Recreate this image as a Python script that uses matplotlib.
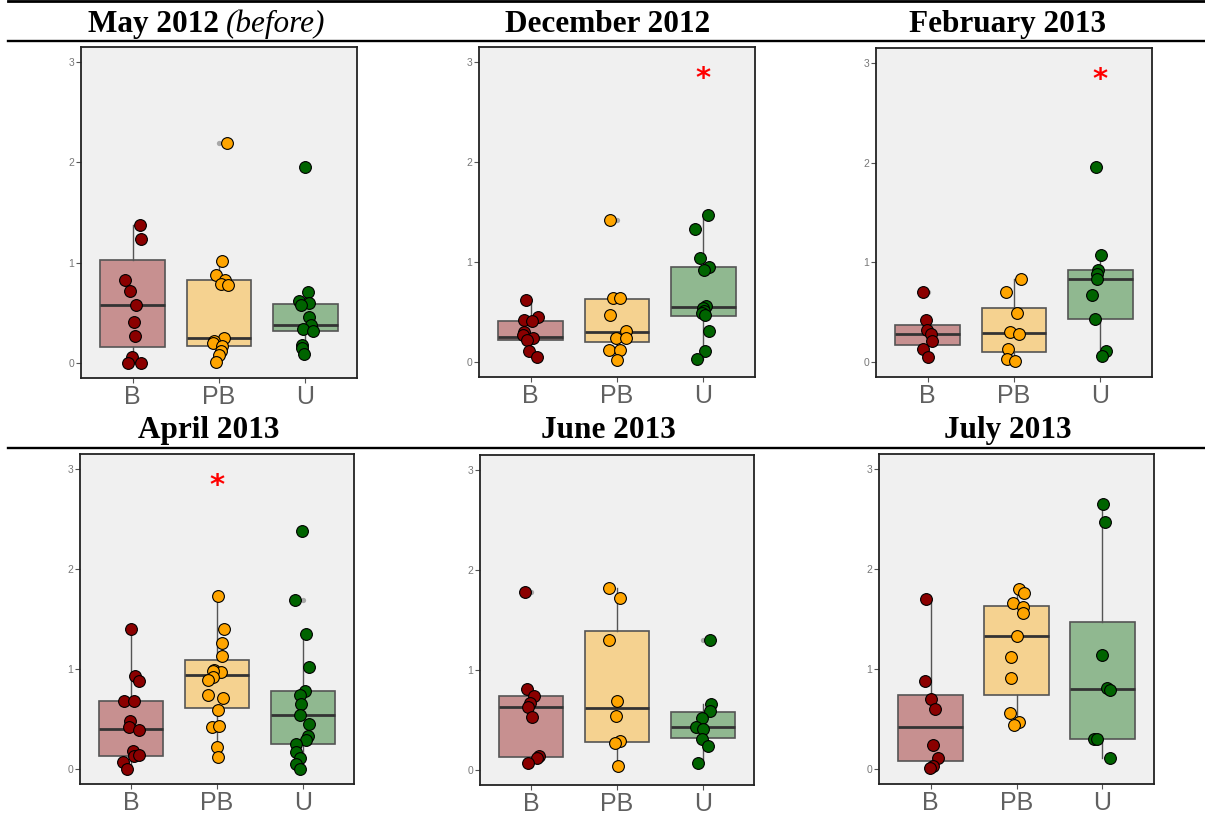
import matplotlib
matplotlib.use("Agg")
import matplotlib.pyplot as plt
from matplotlib.colors import to_rgba
from matplotlib.lines import Line2D

W, H = 1205, 817

groups = ["B", "PB", "U"]
colors = ["#8b0000", "#ffa500", "#006400"]
months = ["May 2012", "December 2012", "February 2013",
          "April 2013", "June 2013", "July 2013"]

# values per group (B, PB, U), jitter offsets, box stats (q1, median, q3, low, high)
may12_y = [[1.38, 1.24, 0.83, 0.72, 0.58, 0.41, 0.27, 0.06, 0.0, 0.0],
           [2.19, 1.02, 0.88, 0.83, 0.79, 0.78, 0.25, 0.22, 0.20, 0.17, 0.12, 0.08, 0.01],
           [1.95, 0.71, 0.62, 0.60, 0.58, 0.46, 0.38, 0.34, 0.32, 0.18, 0.15, 0.09]]
may12_dx = [[0.08, 0.09, -0.09, -0.03, 0.04, 0.02, 0.03, -0.01, -0.05, 0.09],
            [0.09, 0.04, -0.03, 0.07, 0.02, 0.11, 0.06, -0.06, -0.07, 0.035, 0.02, 0.0, -0.03],
            [0.0, 0.03, -0.07, 0.04, -0.05, 0.04, 0.065, -0.03, 0.09, -0.035, -0.04, -0.02]]
may12_box = [(0.16, 0.58, 1.03, 0.0, 1.38), (0.17, 0.25, 0.83, 0.01, 1.02),
             (0.32, 0.38, 0.59, 0.09, 0.71)]

dec12_y = [[0.62, 0.45, 0.42, 0.41, 0.30, 0.27, 0.24, 0.22, 0.11, 0.05],
           [1.42, 0.64, 0.64, 0.47, 0.31, 0.24, 0.24, 0.12, 0.12, 0.02],
           [1.47, 1.33, 1.04, 0.95, 0.92, 0.56, 0.54, 0.51, 0.49, 0.47, 0.31, 0.11, 0.03]]
dec12_dx = [[-0.06, 0.08, -0.08, 0.01, -0.08, -0.09, 0.03, -0.04, -0.015, 0.07],
            [-0.08, -0.05, 0.04, -0.085, 0.1, -0.015, 0.1, -0.09, 0.03, 0.0],
            [0.05, -0.09, -0.035, 0.065, 0.01, 0.03, 0.0, 0.01, -0.02, 0.02, 0.065, 0.02, -0.07]]
dec12_box = [(0.22, 0.25, 0.41, 0.05, 0.62), (0.20, 0.30, 0.63, 0.02, 0.64),
             (0.46, 0.55, 0.95, 0.03, 1.47)]

feb13_y = [[0.70, 0.42, 0.32, 0.28, 0.21, 0.13, 0.05],
           [0.83, 0.70, 0.49, 0.30, 0.28, 0.13, 0.03, 0.01],
           [1.96, 1.07, 0.92, 0.88, 0.83, 0.67, 0.43, 0.11, 0.06]]
feb13_dx = [[-0.05, -0.02, -0.01, 0.04, 0.05, -0.05, 0.0],
            [0.08, -0.09, 0.04, -0.045, 0.06, -0.065, -0.08, 0.01],
            [-0.045, 0.01, -0.025, -0.04, -0.04, -0.1, -0.065, 0.065, 0.025]]
feb13_box = [(0.17, 0.28, 0.37, 0.05, 0.42), (0.10, 0.29, 0.54, 0.01, 0.83),
             (0.43, 0.83, 0.92, 0.06, 1.07)]

apr13_y = [[1.40, 0.93, 0.88, 0.68, 0.68, 0.48, 0.42, 0.39, 0.18, 0.13, 0.14, 0.07, 0.0],
           [1.73, 1.40, 1.26, 1.13, 0.99, 0.97, 0.98, 0.92, 0.89, 0.74, 0.71, 0.59, 0.42,
            0.43, 0.22, 0.12],
           [2.38, 1.69, 1.35, 1.02, 0.78, 0.74, 0.65, 0.54, 0.45, 0.33, 0.29, 0.25, 0.17,
            0.11, 0.05, 0.0]]
apr13_dx = [[0.0, 0.04, 0.09, -0.09, 0.03, -0.02, -0.03, 0.085, 0.015, 0.035, 0.09, -0.1, -0.055],
            [0.01, 0.085, 0.06, 0.055, -0.04, 0.045, -0.05, -0.05, -0.1, -0.105, 0.065, 0.01,
             -0.06, 0.02, 0.0, 0.01],
            [-0.01, -0.09, 0.045, 0.07, 0.03, -0.03, -0.015, -0.03, 0.07, 0.06, 0.04, -0.075,
             -0.08, -0.03, -0.08, -0.03]]
apr13_box = [(0.13, 0.40, 0.68, 0.0, 1.40), (0.61, 0.94, 1.09, 0.12, 1.73),
             (0.25, 0.54, 0.78, 0.0, 1.35)]

jun13_y = [[1.78, 0.81, 0.74, 0.67, 0.63, 0.53, 0.14, 0.12, 0.07],
           [1.82, 1.72, 1.30, 0.69, 0.54, 0.29, 0.27, 0.04],
           [1.30, 0.66, 0.59, 0.52, 0.43, 0.41, 0.31, 0.24, 0.07]]
jun13_dx = [[-0.08, -0.05, 0.03, -0.02, -0.045, 0.01, 0.09, 0.06, -0.035],
            [-0.09, 0.04, -0.09, 0.0, -0.01, 0.04, -0.02, 0.015],
            [0.085, 0.1, 0.09, -0.01, -0.08, 0.01, -0.01, 0.06, -0.055]]
jun13_box = [(0.13, 0.63, 0.74, 0.07, 0.81), (0.28, 0.62, 1.39, 0.04, 1.82),
             (0.32, 0.43, 0.58, 0.07, 0.66)]

jul13_y = [[1.70, 0.88, 0.70, 0.60, 0.24, 0.11, 0.03, 0.01],
           [1.80, 1.76, 1.66, 1.62, 1.56, 1.33, 1.12, 0.91, 0.56, 0.47, 0.44],
           [2.65, 2.47, 1.14, 0.81, 0.79, 0.30, 0.30, 0.11]]
jul13_dx = [[-0.05, -0.07, 0.0, 0.05, 0.03, 0.085, 0.03, -0.01],
            [0.03, 0.09, -0.04, 0.08, 0.075, 0.0, -0.06, -0.065, -0.07, 0.03, -0.03],
            [0.01, 0.03, 0.0, 0.05, 0.085, -0.1, -0.06, 0.085]]
jul13_box = [(0.08, 0.42, 0.74, 0.01, 1.70), (0.74, 1.33, 1.63, 0.44, 1.80),
             (0.30, 0.80, 1.47, 0.11, 2.65)]

# significance asterisk: category index (1-based) or None
stars = [None, 3, 3, 2, None, None]
star_y = 2.83

panel_y = [may12_y, dec12_y, feb13_y, apr13_y, jun13_y, jul13_y]
panel_dx = [may12_dx, dec12_dx, feb13_dx, apr13_dx, jun13_dx, jul13_dx]
panel_box = [may12_box, dec12_box, feb13_box, apr13_box, jun13_box, jul13_box]

# axes rectangles in pixels: left, right, top, bottom
rects = [(81, 357, 47, 378), (479, 755, 47, 377), (876, 1152, 48, 377),
         (80, 354, 454, 784), (480, 754, 455, 785), (879, 1154, 454, 784)]


def draw_panel(ax, ys, dxs, boxes, star):
    ax.set_facecolor("#f0f0f0")
    stats = []
    for v, (q1, med, q3, lo, hi) in zip(ys, boxes):
        fl = [y for y in v if y < lo - 1e-6 or y > hi + 1e-6]
        stats.append(dict(q1=q1, med=med, q3=q3, whislo=lo, whishi=hi, fliers=fl))
    bp = ax.bxp(stats, positions=[1, 2, 3], widths=0.75, patch_artist=True,
                showcaps=False,
                boxprops=dict(edgecolor="#555555", linewidth=1.2),
                whiskerprops=dict(color="#555555", linewidth=1.0),
                medianprops=dict(color="#333333", linewidth=2.0),
                flierprops=dict(marker="o", markersize=3.8, markerfacecolor="#a8a8a8",
                                markeredgecolor="none"))
    for patch, c in zip(bp["boxes"], colors):
        patch.set_facecolor(to_rgba(c, 0.4))
    for i, (v, d, c) in enumerate(zip(ys, dxs, colors)):
        xs = [i + 1 + dd for dd in d]
        ax.scatter(xs, v, s=72, color=c, edgecolors="black", linewidths=0.8, zorder=5)
    if star is not None:
        ax.text(star, star_y, "*", color="red", fontsize=21, fontweight="bold",
                ha="center", va="center", zorder=6)
    ax.set_xlim(0.4, 3.6)
    ax.set_ylim(-0.15, 3.15)
    ax.set_xticks([1, 2, 3])
    ax.set_xticklabels(groups, fontsize=18, color="#606060", family="Liberation Sans")
    ax.set_yticks([0, 1, 2, 3])
    ax.set_yticklabels(["0", "1", "2", "3"], fontsize=7.5, color="#777777",
                       family="Liberation Sans")
    ax.tick_params(axis="both", length=3.5, width=0.8, color="#555555", pad=1.5)
    for sp in ax.spines.values():
        sp.set_linewidth(1.3)
        sp.set_color("#222222")


def main():
    fig = plt.figure(figsize=(W / 100, H / 100), dpi=100)
    fx = lambda x: x / W
    fy = lambda y: 1 - y / H

    for k, (l, r, t, b) in enumerate(rects):
        ax = fig.add_axes([fx(l), fy(b), (r - l) / W, (b - t) / H])
        draw_panel(ax, panel_y[k], panel_dx[k], panel_box[k], stars[k])

    # table-like rules
    for y, lw in [(1.3, 2.0), (40.5, 1.7), (448, 1.7)]:
        fig.add_artist(Line2D([fx(8), fx(1205)], [fy(y), fy(y)], color="black",
                              linewidth=lw, transform=fig.transFigure))

    # titles
    tfont = dict(family="Liberation Serif", fontsize=22.5, va="baseline")
    fig.text(fx(219), fy(32), "May 2012", ha="right", fontweight="bold", **tfont)
    fig.text(fx(226), fy(32), "(before)", ha="left", style="italic", **tfont)
    fig.text(fx(608), fy(32), months[1], ha="center", fontweight="bold", **tfont)
    fig.text(fx(1008), fy(32), months[2], ha="center", fontweight="bold", **tfont)
    for x, m in zip([209, 608, 1008], months[3:]):
        fig.text(fx(x), fy(438), m, ha="center", fontweight="bold", **tfont)

    fig.savefig("out.png", dpi=100)


if __name__ == "__main__":
    main()
